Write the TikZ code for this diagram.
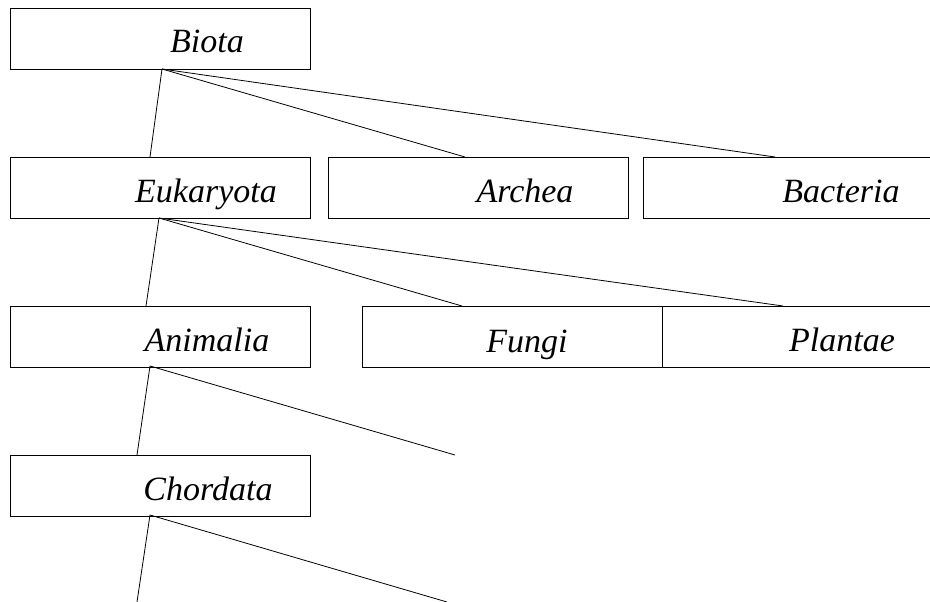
\documentclass[tikz,border=0pt]{standalone}
\usepackage{fontspec}
\setmainfont{Liberation Serif}
\begin{document}
\begin{tikzpicture}[x=1pt,y=-1pt,
  box/.style={draw, line width=0.9pt, rectangle, minimum width=300pt, minimum height=61pt, anchor=north west, inner sep=0pt},
  lbl/.style={anchor=base, font=\fontsize{34}{40}\selectfont\itshape, inner sep=0pt},
  link/.style={line width=0.8pt}]
\clip (0,0) rectangle (930,602);
% boxes
\node[box] (biota) at (10,8) {};
\node[box] (euk) at (10,157) {};
\node[box] (arch) at (328,157) {};
\node[box] (bact) at (643,157) {};
\node[box] (anim) at (10,306) {};
\node[box] (fungi) at (362,306) {};
\node[box] (plant) at (662,306) {};
\node[box] (chord) at (10,455) {};
% labels
\node[lbl] (biotaT) at (207,53) {Biota};
\node[lbl] (eukT) at (206,202) {Eukaryota};
\node[lbl] (archT) at (525,202) {Archea};
\node[lbl] (bactT) at (841,202) {Bacteria};
\node[lbl] (animT) at (207,351) {Animalia};
\node[lbl] (fungiT) at (527,352) {Fungi};
\node[lbl] (plantT) at (842,351) {Plantae};
\node[lbl] (chordT) at (208,500) {Chordata};
% connection points
\coordinate (biotaB) at (162,69);
\coordinate (eukB) at (159,218);
\coordinate (animB) at (150,366);
\coordinate (chordB) at (150,515);
\coordinate (eukTop) at (150,157);
\coordinate (archTop) at (465,157);
\coordinate (bactTop) at (775,157);
\coordinate (animTop) at (146,306);
\coordinate (fungiTop) at (462,306);
\coordinate (plantTop) at (783,306);
\coordinate (chordTop) at (137,455);
\coordinate (freeA) at (455,455);
\coordinate (freeB) at (137,602);
\coordinate (freeC) at (447,602);
% connectors
\draw[link] (biotaB) -- (eukTop);
\draw[link] (biotaB) -- (archTop);
\draw[link] (biotaB) -- (bactTop);
\draw[link] (eukB) -- (animTop);
\draw[link] (eukB) -- (fungiTop);
\draw[link] (eukB) -- (plantTop);
\draw[link] (animB) -- (chordTop);
\draw[link] (animB) -- (freeA);
\draw[link] (chordB) -- (freeB);
\draw[link] (chordB) -- (freeC);
\end{tikzpicture}
\end{document}
